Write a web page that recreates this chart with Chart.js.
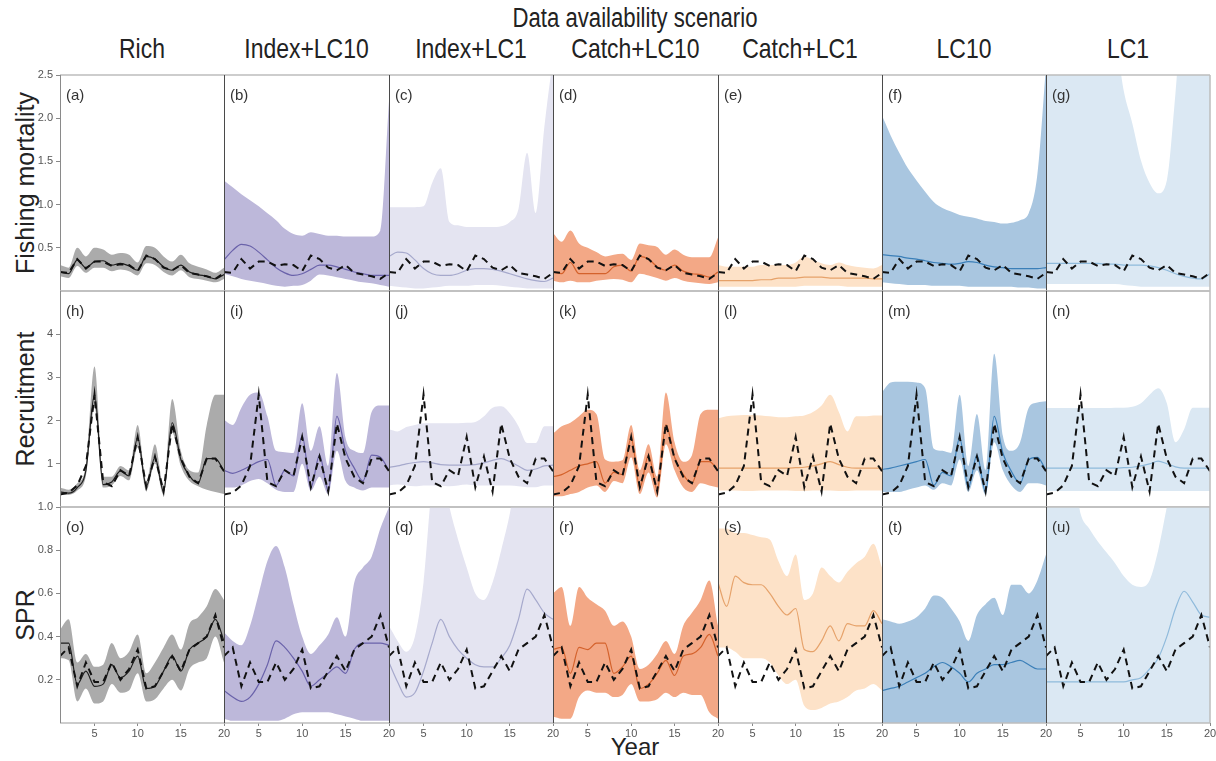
<!DOCTYPE html>
<html>
<head>
<meta charset="utf-8">
<script src="https://cdn.jsdelivr.net/npm/chart.js@4.4.1/dist/chart.umd.min.js"></script>
<style>
  body { margin: 0; background: #fff; }
  #wrap { position: relative; width: 1216px; height: 761px; overflow: hidden; font-family: "Liberation Sans", Arial, sans-serif; color: #222; }
  #wrap canvas { position: absolute; }
  .lbl { position: absolute; white-space: nowrap; line-height: 1; }
  .narrow { transform: scaleX(0.82); transform-origin: center; }
  .ytitle { position: absolute; white-space: nowrap; line-height: 1; font-size: 25px; transform: translate(-50%, -50%) rotate(-90deg); }
</style>
</head>
<body>
<div id="wrap"></div>
<script>
// ---- data ----
const years = [1, 2, 3, 4, 5, 6, 7, 8, 9, 10, 11, 12, 13, 14, 15, 16, 17, 18, 19, 20];
const scenarios = ['Rich', 'Index+LC10', 'Index+LC1', 'Catch+LC10', 'Catch+LC1', 'LC10', 'LC1'];
const rowTitles = ['Fishing mortality', 'Recruitment', 'SPR'];
const xTicks = [5, 10, 15, 20];
const fTicks = [0.5, 1.0, 1.5, 2.0, 2.5];
const recTicks = [1, 2, 3, 4];
const sprTicks = [0.2, 0.4, 0.6, 0.8, 1.0];

// "true" values (dashed line), same in every column of a row
const trueF = [0.22, 0.21, 0.37, 0.26, 0.34, 0.34, 0.29, 0.31, 0.30, 0.23, 0.41, 0.37, 0.27, 0.24, 0.30, 0.21, 0.19, 0.17, 0.14, 0.21];
const trueRec = [0.29, 0.33, 0.50, 0.95, 2.60, 0.58, 0.48, 0.85, 0.72, 1.62, 0.46, 1.17, 0.36, 1.93, 1.12, 0.70, 0.55, 1.12, 1.12, 0.83];
const trueSPR = [0.31, 0.35, 0.17, 0.28, 0.19, 0.19, 0.28, 0.20, 0.25, 0.34, 0.16, 0.17, 0.24, 0.31, 0.24, 0.34, 0.37, 0.40, 0.50, 0.35];

// fishing mortality: median, lower, upper
const fRichMed = [0.22, 0.20, 0.36, 0.27, 0.34, 0.35, 0.30, 0.32, 0.29, 0.24, 0.40, 0.37, 0.28, 0.24, 0.30, 0.22, 0.19, 0.17, 0.14, 0.19];
const fRichLo = [0.17, 0.15, 0.29, 0.21, 0.27, 0.27, 0.23, 0.25, 0.23, 0.18, 0.32, 0.30, 0.22, 0.18, 0.24, 0.16, 0.14, 0.12, 0.10, 0.14];
const fRichHi = [0.30, 0.27, 0.50, 0.40, 0.50, 0.48, 0.42, 0.44, 0.42, 0.33, 0.52, 0.50, 0.40, 0.34, 0.42, 0.32, 0.28, 0.25, 0.21, 0.27];
const fIdxLC10Med = [0.36, 0.47, 0.54, 0.52, 0.45, 0.36, 0.27, 0.21, 0.18, 0.20, 0.25, 0.30, 0.30, 0.28, 0.25, 0.22, 0.20, 0.18, 0.18, 0.18];
const fIdxLC10Lo = [0.20, 0.17, 0.14, 0.12, 0.10, 0.08, 0.06, 0.05, 0.06, 0.07, 0.12, 0.19, 0.18, 0.16, 0.14, 0.12, 0.10, 0.09, 0.07, 0.05];
const fIdxLC10Hi = [1.28, 1.20, 1.12, 1.05, 0.98, 0.90, 0.82, 0.72, 0.66, 0.64, 0.68, 0.66, 0.64, 0.64, 0.63, 0.63, 0.63, 0.63, 0.70, 2.20];
const fIdxLC1Med = [0.40, 0.45, 0.44, 0.36, 0.26, 0.20, 0.18, 0.18, 0.20, 0.24, 0.26, 0.26, 0.25, 0.23, 0.20, 0.17, 0.14, 0.12, 0.11, 0.15];
const fIdxLC1Lo = [0.06, 0.05, 0.04, 0.03, 0.03, 0.04, 0.05, 0.06, 0.06, 0.06, 0.07, 0.07, 0.07, 0.06, 0.05, 0.04, 0.03, 0.03, 0.03, 0.03];
const fIdxLC1Hi = [0.97, 0.97, 0.97, 0.97, 0.98, 1.25, 1.42, 0.80, 0.76, 0.74, 0.74, 0.74, 0.74, 0.75, 0.80, 0.95, 1.60, 0.90, 1.90, 2.70];
const fCatLC10Med = [0.22, 0.20, 0.33, 0.20, 0.20, 0.20, 0.20, 0.28, 0.30, 0.23, 0.40, 0.37, 0.28, 0.24, 0.30, 0.23, 0.20, 0.19, 0.16, 0.22];
const fCatLC10Lo = [0.12, 0.10, 0.12, 0.10, 0.10, 0.12, 0.13, 0.14, 0.13, 0.10, 0.20, 0.18, 0.15, 0.12, 0.15, 0.12, 0.10, 0.09, 0.08, 0.10];
const fCatLC10Hi = [0.67, 0.57, 0.70, 0.55, 0.50, 0.45, 0.40, 0.42, 0.43, 0.36, 0.55, 0.53, 0.51, 0.42, 0.48, 0.42, 0.39, 0.39, 0.39, 0.62];
const fCatLC1Med = [0.12, 0.12, 0.12, 0.12, 0.12, 0.13, 0.13, 0.15, 0.15, 0.15, 0.16, 0.16, 0.16, 0.15, 0.15, 0.15, 0.15, 0.15, 0.14, 0.14];
const fCatLC1Lo = [0.05, 0.05, 0.05, 0.05, 0.05, 0.05, 0.05, 0.05, 0.05, 0.05, 0.06, 0.06, 0.06, 0.06, 0.06, 0.05, 0.05, 0.05, 0.05, 0.05];
const fCatLC1Hi = [0.30, 0.28, 0.28, 0.28, 0.28, 0.30, 0.30, 0.30, 0.30, 0.33, 0.40, 0.36, 0.32, 0.30, 0.33, 0.30, 0.28, 0.27, 0.26, 0.30];
const fLC10Med = [0.42, 0.41, 0.40, 0.38, 0.37, 0.35, 0.33, 0.32, 0.31, 0.32, 0.34, 0.33, 0.30, 0.28, 0.27, 0.26, 0.26, 0.26, 0.26, 0.27];
const fLC10Lo = [0.10, 0.09, 0.08, 0.07, 0.07, 0.07, 0.06, 0.06, 0.06, 0.06, 0.05, 0.05, 0.05, 0.05, 0.05, 0.05, 0.04, 0.04, 0.03, 0.03];
const fLC10Hi = [2.03, 1.80, 1.60, 1.42, 1.28, 1.15, 1.03, 0.96, 0.92, 0.88, 0.86, 0.84, 0.81, 0.80, 0.78, 0.79, 0.82, 0.90, 1.35, 2.60];
const fLC1Med = [0.32, 0.32, 0.32, 0.32, 0.32, 0.32, 0.32, 0.31, 0.31, 0.30, 0.30, 0.30, 0.29, 0.27, 0.24, 0.20, 0.17, 0.15, 0.14, 0.20];
const fLC1Lo = [0.08, 0.08, 0.08, 0.08, 0.08, 0.08, 0.08, 0.08, 0.08, 0.07, 0.06, 0.05, 0.05, 0.05, 0.05, 0.05, 0.05, 0.05, 0.05, 0.05];
const fLC1Hi = [3.50, 3.50, 3.50, 3.50, 3.50, 3.50, 3.50, 3.50, 3.00, 2.32, 1.94, 1.51, 1.25, 1.13, 1.28, 2.29, 3.50, 3.50, 3.50, 3.50];

// recruitment
const rRichMed = [0.35, 0.32, 0.45, 0.85, 2.60, 0.52, 0.58, 0.83, 0.72, 1.60, 0.48, 1.15, 0.36, 1.95, 1.10, 0.72, 0.55, 1.12, 1.12, 0.83];
const rRichLo = [0.28, 0.28, 0.38, 0.72, 2.30, 0.45, 0.50, 0.72, 0.62, 1.38, 0.38, 1.00, 0.28, 1.72, 0.95, 0.60, 0.48, 0.40, 0.35, 0.30];
const rRichHi = [0.45, 0.40, 0.55, 0.95, 3.25, 0.70, 0.70, 0.95, 0.85, 1.90, 0.60, 1.45, 0.50, 2.50, 1.30, 0.85, 0.80, 1.90, 2.60, 2.60];
const rIdxLC10Med = [0.85, 0.78, 0.85, 0.95, 1.05, 1.10, 0.50, 0.85, 0.72, 1.65, 0.45, 1.20, 0.38, 2.10, 1.30, 0.90, 0.60, 1.20, 1.15, 0.85];
const rIdxLC10Lo = [0.45, 0.45, 0.50, 0.60, 0.65, 0.55, 0.40, 0.35, 0.35, 1.00, 0.38, 0.70, 0.30, 1.30, 0.60, 0.45, 0.38, 0.45, 0.45, 0.45];
const rIdxLC10Hi = [2.02, 1.90, 2.30, 2.60, 2.65, 2.10, 1.30, 1.27, 1.25, 2.40, 1.30, 1.87, 0.95, 3.10, 1.60, 1.30, 1.25, 2.20, 2.35, 2.35];
const rIdxLC1Med = [0.92, 0.95, 1.00, 1.03, 1.05, 1.02, 0.98, 0.97, 0.97, 0.97, 0.98, 1.02, 1.08, 1.12, 1.05, 0.95, 0.85, 0.88, 0.95, 0.97];
const rIdxLC1Lo = [0.50, 0.52, 0.50, 0.48, 0.50, 0.50, 0.50, 0.48, 0.50, 0.52, 0.50, 0.50, 0.50, 0.50, 0.50, 0.48, 0.46, 0.46, 0.50, 0.50];
const rIdxLC1Hi = [1.80, 1.75, 1.85, 1.90, 1.94, 1.94, 1.94, 1.94, 1.94, 1.95, 1.97, 2.10, 2.30, 2.33, 2.17, 1.87, 1.48, 1.48, 1.87, 1.87];
const rCatLC10Med = [0.70, 0.75, 0.85, 0.95, 1.00, 1.05, 0.55, 0.80, 0.75, 1.60, 0.45, 1.20, 0.40, 1.90, 1.15, 0.75, 0.55, 1.05, 1.05, 0.85];
const rCatLC10Lo = [0.25, 0.25, 0.30, 0.35, 0.45, 0.50, 0.35, 0.60, 0.55, 1.15, 0.30, 0.80, 0.22, 1.45, 0.85, 0.45, 0.35, 0.55, 0.50, 0.45];
const rCatLC10Hi = [1.70, 1.87, 1.95, 2.10, 2.25, 2.15, 1.10, 1.05, 1.08, 1.90, 0.85, 1.45, 0.70, 2.65, 1.50, 1.05, 1.20, 2.15, 2.25, 2.25];
const rCatLC1Med = [0.90, 0.90, 0.90, 0.90, 0.90, 0.90, 0.90, 0.90, 0.90, 0.91, 0.92, 0.95, 1.00, 1.05, 0.98, 0.92, 0.90, 0.90, 0.90, 0.90];
const rCatLC1Lo = [0.38, 0.38, 0.38, 0.37, 0.37, 0.38, 0.38, 0.38, 0.38, 0.37, 0.37, 0.38, 0.38, 0.38, 0.37, 0.37, 0.38, 0.38, 0.38, 0.38];
const rCatLC1Hi = [2.05, 2.10, 2.12, 2.13, 2.13, 2.12, 2.10, 2.08, 2.08, 2.10, 2.12, 2.20, 2.35, 2.60, 2.20, 1.75, 2.10, 2.10, 2.12, 2.12];
const rLC10Med = [0.87, 0.90, 0.95, 1.00, 1.05, 1.10, 0.50, 0.80, 0.72, 1.60, 0.45, 1.20, 0.35, 2.10, 1.25, 0.82, 0.55, 1.10, 1.15, 0.85];
const rLC10Lo = [0.35, 0.35, 0.35, 0.40, 0.45, 0.50, 0.40, 0.55, 0.50, 1.10, 0.35, 0.85, 0.28, 1.50, 0.85, 0.50, 0.35, 0.55, 0.55, 0.50];
const rLC10Hi = [2.65, 2.88, 2.90, 2.90, 2.88, 2.75, 1.35, 1.30, 1.25, 2.60, 0.95, 2.15, 0.85, 3.55, 1.65, 1.30, 1.50, 2.30, 2.42, 2.45];
const rLC1Med = [0.90, 0.90, 0.90, 0.90, 0.90, 0.90, 0.90, 0.90, 0.90, 0.91, 0.92, 0.95, 1.00, 1.06, 1.00, 0.93, 0.90, 0.90, 0.90, 0.90];
const rLC1Lo = [0.37, 0.37, 0.37, 0.37, 0.37, 0.37, 0.37, 0.37, 0.37, 0.37, 0.37, 0.37, 0.37, 0.37, 0.37, 0.37, 0.37, 0.37, 0.37, 0.37];
const rLC1Hi = [2.29, 2.29, 2.29, 2.29, 2.29, 2.29, 2.29, 2.29, 2.30, 2.30, 2.32, 2.40, 2.60, 2.75, 2.40, 1.50, 1.80, 2.30, 2.30, 2.30];

// SPR
const sRichMed = [0.37, 0.37, 0.18, 0.24, 0.17, 0.18, 0.27, 0.21, 0.24, 0.31, 0.16, 0.17, 0.24, 0.31, 0.24, 0.34, 0.37, 0.40, 0.48, 0.38];
const sRichLo = [0.30, 0.29, 0.10, 0.16, 0.09, 0.10, 0.18, 0.14, 0.15, 0.23, 0.10, 0.11, 0.16, 0.20, 0.15, 0.25, 0.28, 0.30, 0.40, 0.28];
const sRichHi = [0.43, 0.48, 0.28, 0.32, 0.26, 0.27, 0.37, 0.30, 0.33, 0.41, 0.23, 0.28, 0.35, 0.41, 0.34, 0.46, 0.49, 0.54, 0.62, 0.57];
const sIdxLC10Med = [0.15, 0.12, 0.10, 0.12, 0.18, 0.27, 0.38, 0.35, 0.30, 0.24, 0.17, 0.20, 0.23, 0.26, 0.23, 0.34, 0.37, 0.37, 0.37, 0.36];
const sIdxLC10Lo = [0.02, 0.01, 0.01, 0.01, 0.01, 0.01, 0.01, 0.02, 0.04, 0.05, 0.05, 0.05, 0.05, 0.04, 0.03, 0.02, 0.01, 0.01, 0.01, 0.01];
const sIdxLC10Hi = [0.42, 0.38, 0.36, 0.45, 0.60, 0.75, 0.82, 0.72, 0.55, 0.40, 0.32, 0.36, 0.41, 0.49, 0.40, 0.65, 0.72, 0.77, 0.90, 1.00];
const sIdxLC1Med = [0.28, 0.19, 0.12, 0.14, 0.24, 0.37, 0.48, 0.40, 0.34, 0.30, 0.27, 0.26, 0.26, 0.30, 0.36, 0.48, 0.62, 0.57, 0.51, 0.48];
const sIdxLC1Lo = [0, 0, 0, 0, 0, 0, 0, 0, 0, 0, 0, 0, 0, 0, 0, 0, 0, 0, 0, 0];
const sIdxLC1Hi = [0.45, 0.38, 0.33, 0.40, 0.65, 1.10, 1.20, 1.00, 0.85, 0.72, 0.60, 0.57, 0.65, 0.80, 0.97, 1.20, 1.20, 1.20, 1.20, 1.20];
const sCatLC10Med = [0.34, 0.35, 0.23, 0.35, 0.34, 0.37, 0.37, 0.23, 0.26, 0.31, 0.16, 0.18, 0.23, 0.29, 0.22, 0.31, 0.32, 0.35, 0.41, 0.31];
const sCatLC10Lo = [0.03, 0.02, 0.02, 0.12, 0.15, 0.14, 0.14, 0.12, 0.13, 0.18, 0.10, 0.10, 0.11, 0.14, 0.12, 0.14, 0.13, 0.13, 0.05, 0.02];
const sCatLC10Hi = [0.60, 0.63, 0.45, 0.63, 0.58, 0.55, 0.52, 0.45, 0.47, 0.40, 0.25, 0.27, 0.32, 0.38, 0.32, 0.45, 0.51, 0.57, 0.66, 0.45];
const sCatLC1Med = [0.65, 0.54, 0.68, 0.65, 0.64, 0.64, 0.60, 0.54, 0.50, 0.53, 0.34, 0.33, 0.38, 0.45, 0.38, 0.46, 0.45, 0.45, 0.52, 0.46];
const sCatLC1Lo = [0.35, 0.35, 0.33, 0.30, 0.30, 0.30, 0.28, 0.22, 0.18, 0.20, 0.08, 0.06, 0.07, 0.09, 0.10, 0.12, 0.15, 0.16, 0.18, 0.15];
const sCatLC1Hi = [0.90, 0.90, 0.88, 0.88, 0.87, 0.86, 0.85, 0.75, 0.68, 0.78, 0.57, 0.60, 0.72, 0.68, 0.65, 0.70, 0.74, 0.77, 0.83, 0.72];
const sLC10Med = [0.15, 0.16, 0.17, 0.19, 0.21, 0.23, 0.26, 0.28, 0.26, 0.23, 0.19, 0.23, 0.25, 0.27, 0.27, 0.28, 0.29, 0.27, 0.25, 0.25];
const sLC10Lo = [0, 0, 0, 0, 0, 0, 0, 0, 0, 0, 0, 0, 0, 0, 0, 0, 0, 0, 0, 0];
const sLC10Hi = [0.48, 0.47, 0.46, 0.47, 0.49, 0.53, 0.59, 0.58, 0.53, 0.47, 0.38, 0.50, 0.55, 0.58, 0.50, 0.64, 0.64, 0.60, 0.66, 0.78];
const sLC1Med = [0.19, 0.19, 0.19, 0.19, 0.19, 0.19, 0.19, 0.19, 0.19, 0.19, 0.20, 0.21, 0.25, 0.30, 0.40, 0.53, 0.61, 0.56, 0.50, 0.49];
const sLC1Lo = [0, 0, 0, 0, 0, 0, 0, 0, 0, 0, 0, 0, 0, 0, 0, 0, 0, 0, 0, 0];
const sLC1Hi = [1.20, 1.20, 1.20, 1.20, 0.97, 0.90, 0.84, 0.79, 0.74, 0.68, 0.64, 0.63, 0.66, 0.80, 1.00, 1.20, 1.20, 1.20, 1.20, 1.20];

// ---- tables built from the arrays above ----
const rows = [
    { truth: trueF, min: 0, max: 2.5, ticks: fTicks, dec: 1,
      med: [fRichMed, fIdxLC10Med, fIdxLC1Med, fCatLC10Med, fCatLC1Med, fLC10Med, fLC1Med],
      lo: [fRichLo, fIdxLC10Lo, fIdxLC1Lo, fCatLC10Lo, fCatLC1Lo, fLC10Lo, fLC1Lo],
      hi: [fRichHi, fIdxLC10Hi, fIdxLC1Hi, fCatLC10Hi, fCatLC1Hi, fLC10Hi, fLC1Hi] },
    { truth: trueRec, min: 0, max: 5, ticks: recTicks, dec: 0,
      med: [rRichMed, rIdxLC10Med, rIdxLC1Med, rCatLC10Med, rCatLC1Med, rLC10Med, rLC1Med],
      lo: [rRichLo, rIdxLC10Lo, rIdxLC1Lo, rCatLC10Lo, rCatLC1Lo, rLC10Lo, rLC1Lo],
      hi: [rRichHi, rIdxLC10Hi, rIdxLC1Hi, rCatLC10Hi, rCatLC1Hi, rLC10Hi, rLC1Hi] },
    { truth: trueSPR, min: 0, max: 1, ticks: sprTicks, dec: 1,
      med: [sRichMed, sIdxLC10Med, sIdxLC1Med, sCatLC10Med, sCatLC1Med, sLC10Med, sLC1Med],
      lo: [sRichLo, sIdxLC10Lo, sIdxLC1Lo, sCatLC10Lo, sCatLC1Lo, sLC10Lo, sLC1Lo],
      hi: [sRichHi, sIdxLC10Hi, sIdxLC1Hi, sCatLC10Hi, sCatLC1Hi, sLC10Hi, sLC1Hi] }
];

const bandColors = ['#ababab', '#bdb8da', '#e4e4f1', '#f3a886', '#fde2c8', '#a9c6e0', '#dbe8f3'];
const lineColors = ['#1e1e1e', '#6a62aa', '#a6a9cc', '#d4622c', '#e6a26a', '#3b7fb8', '#8fbadb'];
const smooth = [false, true, true, false, false, true, true];

// layout in pixels
const colX = [60, 224, 389, 553, 718, 882, 1046, 1210];
const rowY = [75, 291, 507, 723];
const AX_W = 40, AX_H = 22, PAD_T = 10, PAD_R = 10, PAD_B = 10;
const tickFont = { family: '"Liberation Sans", Arial, sans-serif', size: 11 };

const wrap = document.getElementById('wrap');

function addText(txt, cls, css) {
    const d = document.createElement('div');
    d.className = cls;
    d.textContent = txt;
    Object.assign(d.style, css);
    wrap.appendChild(d);
}

addText('Data availability scenario', 'lbl narrow', { left: '60px', width: '1150px', textAlign: 'center', top: '5px', fontSize: '27px' });
scenarios.forEach(function (s, c) {
    addText(s, 'lbl narrow', { left: colX[c] + 'px', width: (colX[c + 1] - colX[c]) + 'px', textAlign: 'center', top: '35px', fontSize: '28px' });
});
rowTitles.forEach(function (t, r) {
    addText(t, 'ytitle', { left: '25px', top: ((rowY[r] + rowY[r + 1]) / 2) + 'px' });
});
addText('Year', 'lbl', { left: '60px', width: '1150px', textAlign: 'center', top: '735px', fontSize: '24px' });

// frame lines + panel letter
const panelFrame = {
    id: 'panelFrame',
    afterDraw(chart, args, opts) {
        const a = chart.chartArea, ctx = chart.ctx;
        ctx.save();
        ctx.strokeStyle = '#bdbdbd';
        ctx.lineWidth = 1.5;
        ctx.beginPath();
        ctx.moveTo(a.left, a.top); ctx.lineTo(a.right, a.top);
        ctx.moveTo(a.left, a.bottom); ctx.lineTo(a.right, a.bottom);
        if (opts.lastCol) { ctx.moveTo(a.right, a.top); ctx.lineTo(a.right, a.bottom); }
        ctx.stroke();
        ctx.strokeStyle = opts.firstCol ? '#8a8a8a' : '#4a4a4a';
        ctx.lineWidth = 1;
        ctx.beginPath();
        ctx.moveTo(a.left + 0.5, a.top); ctx.lineTo(a.left + 0.5, a.bottom);
        ctx.stroke();
        ctx.fillStyle = '#333';
        ctx.font = '15px "Liberation Sans", Arial, sans-serif';
        ctx.textBaseline = 'alphabetic';
        ctx.fillText(opts.label, a.left + 6, a.top + 25);
        ctx.restore();
    }
};

function pts(arr) {
    return years.map(function (yr, i) { return { x: yr, y: arr[i] }; });
}

const letters = 'abcdefghijklmnopqrstu';

rows.forEach(function (row, r) {
    scenarios.forEach(function (s, c) {
        const w = colX[c + 1] - colX[c], h = rowY[r + 1] - rowY[r];
        const axW = c === 0 ? AX_W : 0, axH = r === 2 ? AX_H : 0;
        const cv = document.createElement('canvas');
        cv.width = axW + w + PAD_R;
        cv.height = PAD_T + h + axH + PAD_B;
        cv.style.left = (colX[c] - axW) + 'px';
        cv.style.top = (rowY[r] - PAD_T) + 'px';
        wrap.appendChild(cv);

        const tens = smooth[c] ? 0.4 : 0;
        new Chart(cv, {
            type: 'line',
            data: {
                datasets: [
                    { data: pts(row.hi[c]), fill: '+1', backgroundColor: bandColors[c], borderWidth: 0, pointRadius: 0, tension: tens, cubicInterpolationMode: 'monotone', order: 4 },
                    { data: pts(row.lo[c]), fill: false, borderWidth: 0, pointRadius: 0, tension: tens, cubicInterpolationMode: 'monotone', order: 3 },
                    { data: pts(row.med[c]), fill: false, borderColor: lineColors[c], borderWidth: 1.2, pointRadius: 0, tension: tens, cubicInterpolationMode: 'monotone', order: 2 },
                    { data: pts(row.truth), fill: false, borderColor: '#111', borderWidth: 2, borderDash: [7, 5], pointRadius: 0, tension: 0, order: 1 }
                ]
            },
            options: {
                responsive: false,
                animation: false,
                events: [],
                layout: { autoPadding: false, padding: { top: PAD_T, right: PAD_R, left: 0, bottom: PAD_B } },
                plugins: {
                    legend: { display: false },
                    tooltip: { enabled: false },
                    panelFrame: { label: '(' + letters[r * 7 + c] + ')', firstCol: c === 0, lastCol: c === 6 }
                },
                scales: {
                    x: {
                        type: 'linear', min: 1, max: 20,
                        display: r === 2,
                        afterBuildTicks: function (sc) { sc.ticks = xTicks.map(function (v) { return { value: v }; }); },
                        afterFit: function (sc) { sc.height = axH; },
                        grid: { display: true, drawOnChartArea: false, drawTicks: true, tickLength: 3, color: '#888' },
                        border: { display: false },
                        ticks: { font: tickFont, color: '#555', padding: 1, maxRotation: 0, autoSkip: false }
                    },
                    y: {
                        type: 'linear', min: row.min, max: row.max,
                        display: c === 0,
                        afterBuildTicks: function (sc) { sc.ticks = row.ticks.map(function (v) { return { value: v }; }); },
                        afterFit: function (sc) { sc.width = axW; },
                        grid: { display: true, drawOnChartArea: false, drawTicks: true, tickLength: 4, color: '#888' },
                        border: { display: false },
                        ticks: { font: tickFont, color: '#555', padding: 3, autoSkip: false,
                            callback: function (v) { return Number(v).toFixed(row.dec); } }
                    }
                }
            },
            plugins: [panelFrame]
        });
    });
});
</script>
</body>
</html>
